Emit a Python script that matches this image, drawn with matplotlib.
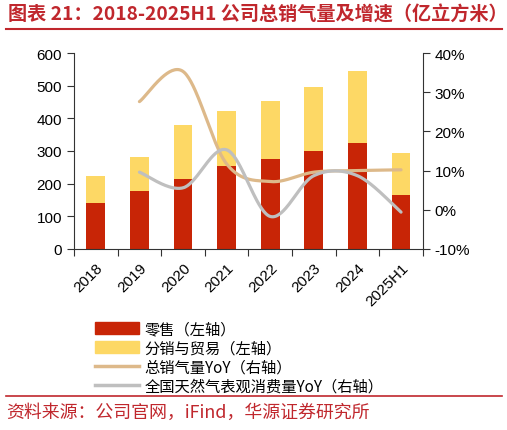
import numpy as np
import matplotlib
matplotlib.use('Agg')
import matplotlib.pyplot as plt
from matplotlib.patches import Patch
from matplotlib.lines import Line2D

plt.rcParams['font.family'] = ['Liberation Sans', 'Noto Sans CJK SC', 'DejaVu Sans']

years = ['2018', '2019', '2020', '2021', '2022', '2023', '2024', '2025H1']
retail = [142, 177, 214, 254, 277, 301, 325, 164]
total = [222, 283, 381, 421, 454, 497, 546, 295]
trade = [t - r for t, r in zip(total, retail)]
# 从2019年开始
sales_yoy = [27.6, 35.3, 11.7, 7.2, 9.6, 10.0, 10.2]
gas_yoy = [9.6, 5.6, 15.3, -1.7, 8.7, 8.7, -0.6]

RED = '#C82506'
YELLOW = '#FDD865'
BEIGE = '#DDB98A'
GRAY = '#BFBFBF'
TXT = '#C0272D'


def smooth(xs, ys, n=40):
    # excel style bezier smoothing
    xs = np.asarray(xs, float)
    ys = np.asarray(ys, float)
    px, py = [], []
    m = len(xs)
    for i in range(m - 1):
        x0, y0 = (xs[i - 1], ys[i - 1]) if i > 0 else (xs[i], ys[i])
        x3, y3 = (xs[i + 2], ys[i + 2]) if i + 2 < m else (xs[i + 1], ys[i + 1])
        c1x = xs[i] + (xs[i + 1] - x0) / 6
        c1y = ys[i] + (ys[i + 1] - y0) / 6
        c2x = xs[i + 1] - (x3 - xs[i]) / 6
        c2y = ys[i + 1] - (y3 - ys[i]) / 6
        t = np.linspace(0, 1, n)
        bx = (1 - t) ** 3 * xs[i] + 3 * (1 - t) ** 2 * t * c1x + 3 * (1 - t) * t ** 2 * c2x + t ** 3 * xs[i + 1]
        by = (1 - t) ** 3 * ys[i] + 3 * (1 - t) ** 2 * t * c1y + 3 * (1 - t) * t ** 2 * c2y + t ** 3 * ys[i + 1]
        px.extend(bx)
        py.extend(by)
    return px, py


fig = plt.figure(figsize=(5.07, 4.31), dpi=100)
ax = fig.add_axes([0.146, 0.42, 0.688, 0.4547])
x = np.arange(len(years))
ax.bar(x, retail, width=0.43, color=RED, zorder=2)
ax.bar(x, trade, width=0.43, bottom=retail, color=YELLOW, zorder=2)
ax.set_xlim(-0.5, len(years) - 0.5)
ax.set_ylim(0, 600)
ax.set_yticks(range(0, 601, 100))
ax.set_xticks(np.arange(-0.5, len(years), 1.0))
ax.set_xticklabels([])
ax.set_xticks(x, minor=True)
ax.set_xticklabels(years, minor=True, rotation=45, ha='right', va='top', rotation_mode='anchor')
ax.tick_params(axis='x', which='minor', length=0, pad=8, labelsize=11)
ax.tick_params(axis='x', which='major', length=5, color='#333333')
ax.tick_params(axis='y', length=5, labelsize=11, color='#333333')
for s in ['top', 'right']:
    ax.spines[s].set_visible(False)
ax.spines['left'].set_color('#333333')
ax.spines['bottom'].set_color('#333333')

ax2 = ax.twinx()
ax2.set_ylim(-10, 40)
ax2.set_yticks(range(-10, 41, 10))
ax2.set_yticklabels(['%d%%' % v for v in range(-10, 41, 10)])
ax2.tick_params(axis='y', length=5, labelsize=11, color='#333333')
for s in ['top', 'left', 'bottom']:
    ax2.spines[s].set_visible(False)
ax2.spines['right'].set_color('#333333')
sx, sy = smooth(x[1:], sales_yoy)
ax2.plot(sx, sy, color=BEIGE, lw=2.3, solid_capstyle='round', zorder=3)
gx, gy = smooth(x[1:], gas_yoy)
ax2.plot(gx, gy, color=GRAY, lw=2.3, solid_capstyle='round', zorder=3)

handles = [Patch(color=RED), Patch(color=YELLOW),
           Line2D([], [], color=BEIGE, lw=2.5), Line2D([], [], color=GRAY, lw=2.5)]
labels = ['零售（左轴）', '分销与贸易（左轴）', '总销气量YoY（右轴）', '全国天然气表观消费量YoY（右轴）']
fig.legend(handles, labels, loc='upper left', bbox_to_anchor=(0.175, 0.268), frameon=False,
           handlelength=2.9, handleheight=0.8, labelspacing=0.12,
           handletextpad=0.35, borderaxespad=0,
           prop={'family': ['Noto Sans CJK SC', 'DejaVu Sans'], 'size': 11})

fig.text(0.016, 0.965, '图表 21：2018-2025H1 公司总销气量及增速（亿立方米）', color=TXT,
         fontsize=13.8, fontweight='bold', va='center', family=['Noto Sans CJK SC', 'DejaVu Sans'])
fig.add_artist(Line2D([0.012, 0.99], [0.93, 0.93], color=TXT, lw=1.5))
fig.add_artist(Line2D([0.012, 0.99], [0.079, 0.079], color=TXT, lw=1.2))
fig.text(0.012, 0.042, '资料来源：公司官网，iFind，华源证券研究所', color=TXT,
         fontsize=12.9, va='center', family=['Noto Sans CJK SC', 'DejaVu Sans'])

fig.savefig('out.png', dpi=100)
